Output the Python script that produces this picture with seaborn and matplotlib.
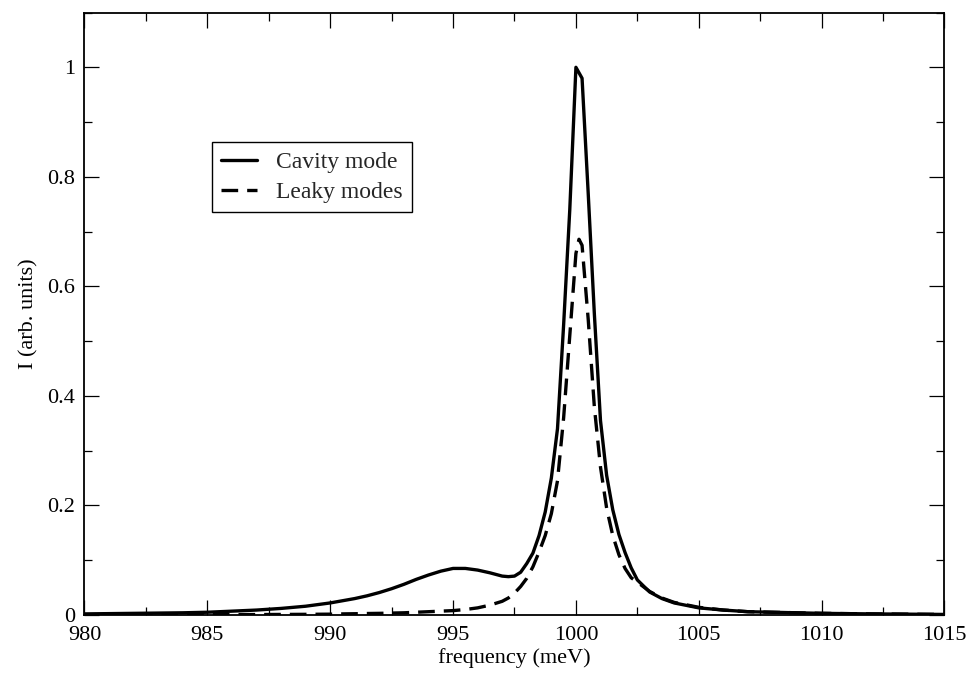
import numpy as np
import pandas as pd
import matplotlib
matplotlib.use("Agg")
import matplotlib.pyplot as plt
from matplotlib.ticker import MultipleLocator, FormatStrFormatter
import seaborn as sns

# ---- data ----
freq = [980, 982, 984, 985, 986, 987, 988, 989, 990, 990.5, 991, 991.5, 992, 992.5,
        993, 993.5, 994, 994.5, 995, 995.5, 996, 996.5, 997, 997.25, 997.5, 997.75,
        998, 998.25, 998.5, 998.75, 999, 999.25, 999.5, 999.75, 1000, 1000.125, 1000.25,
        1000.5, 1000.75, 1001, 1001.25, 1001.5, 1001.75, 1002, 1002.25, 1002.5, 1003,
        1003.5, 1004, 1005, 1006, 1007, 1008, 1010, 1012, 1015]

cavity = [0.002, 0.003, 0.004, 0.005, 0.007, 0.009, 0.012, 0.016, 0.022, 0.026, 0.030,
          0.035, 0.041, 0.048, 0.056, 0.065, 0.073, 0.080, 0.085, 0.085, 0.082, 0.077,
          0.071, 0.070, 0.071, 0.078, 0.094, 0.113, 0.145, 0.188, 0.250, 0.340, 0.530,
          0.740, 1.000, 0.990, 0.980, 0.770, 0.550, 0.355, 0.255, 0.192, 0.147, 0.114,
          0.086, 0.064, 0.042, 0.030, 0.022, 0.013, 0.009, 0.006, 0.005, 0.003, 0.002, 0.001]

leaky = [0.0002, 0.0003, 0.0004, 0.0005, 0.0006, 0.0008, 0.001, 0.0012, 0.0015, 0.002,
         0.0023, 0.0027, 0.003, 0.0035, 0.004, 0.005, 0.006, 0.007, 0.008, 0.010, 0.013,
         0.018, 0.025, 0.031, 0.040, 0.052, 0.067, 0.088, 0.115, 0.145, 0.185, 0.245,
         0.360, 0.510, 0.660, 0.686, 0.675, 0.540, 0.380, 0.270, 0.195, 0.145, 0.110,
         0.085, 0.068, 0.060, 0.043, 0.031, 0.023, 0.014, 0.009, 0.006, 0.005, 0.003,
         0.002, 0.001]

labels = ["Cavity mode", "Leaky modes"]
xticks = [980, 985, 990, 995, 1000, 1005, 1010, 1015]
yticks = [0, 0.2, 0.4, 0.6, 0.8, 1.0]

df = pd.DataFrame({
    "freq": freq * 2,
    "I": cavity + leaky,
    "series": [labels[0]] * len(freq) + [labels[1]] * len(freq),
})

sns.set_theme(style="ticks")
plt.rcParams["font.family"] = ["Liberation Serif", "DejaVu Serif"]

fig = plt.figure(figsize=(9.69, 6.77), dpi=100)
ax = fig.add_axes([0.0872, 0.0916, 0.8875, 0.8899])

sns.lineplot(data=df[df.series == labels[0]], x="freq", y="I", ax=ax,
             color="black", lw=2.4, label=labels[0], sort=False)
sns.lineplot(data=df[df.series == labels[1]], x="freq", y="I", ax=ax,
             color="black", lw=2.4, label=labels[1], sort=False)
ax.lines[1].set_dashes((5, 2.7))

ax.set_xlim(980, 1015)
ax.set_ylim(0, 1.1)
ax.set_xticks(xticks)
ax.set_yticks(yticks)
ax.xaxis.set_minor_locator(MultipleLocator(2.5))
ax.yaxis.set_minor_locator(MultipleLocator(0.1))
ax.yaxis.set_major_formatter(FormatStrFormatter("%g"))

ax.tick_params(which="both", direction="in", top=True, right=True, width=0.9,
               color="black", labelsize=16, labelcolor="black")
ax.tick_params(which="major", length=11)
ax.tick_params(which="minor", length=6)
ax.tick_params(axis="x", which="major", pad=8)
ax.tick_params(axis="y", which="major", pad=7)

for s in ax.spines.values():
    s.set_visible(True)
    s.set_linewidth(1.3)
    s.set_color("black")

ax.set_xlabel("frequency (meV)", fontsize=16, labelpad=2, color="black")
ax.set_ylabel("I (arb. units)", fontsize=16, labelpad=6, color="black")

leg = ax.legend(loc="upper left", bbox_to_anchor=(0.148, 0.785), borderaxespad=0,
                fontsize=17, frameon=True, fancybox=False, framealpha=1,
                edgecolor="black", handlelength=1.5, handletextpad=0.8,
                labelspacing=0.35, borderpad=0.4)
leg.get_frame().set_linewidth(1.0)

fig.savefig("out.png", dpi=100, facecolor="white")
